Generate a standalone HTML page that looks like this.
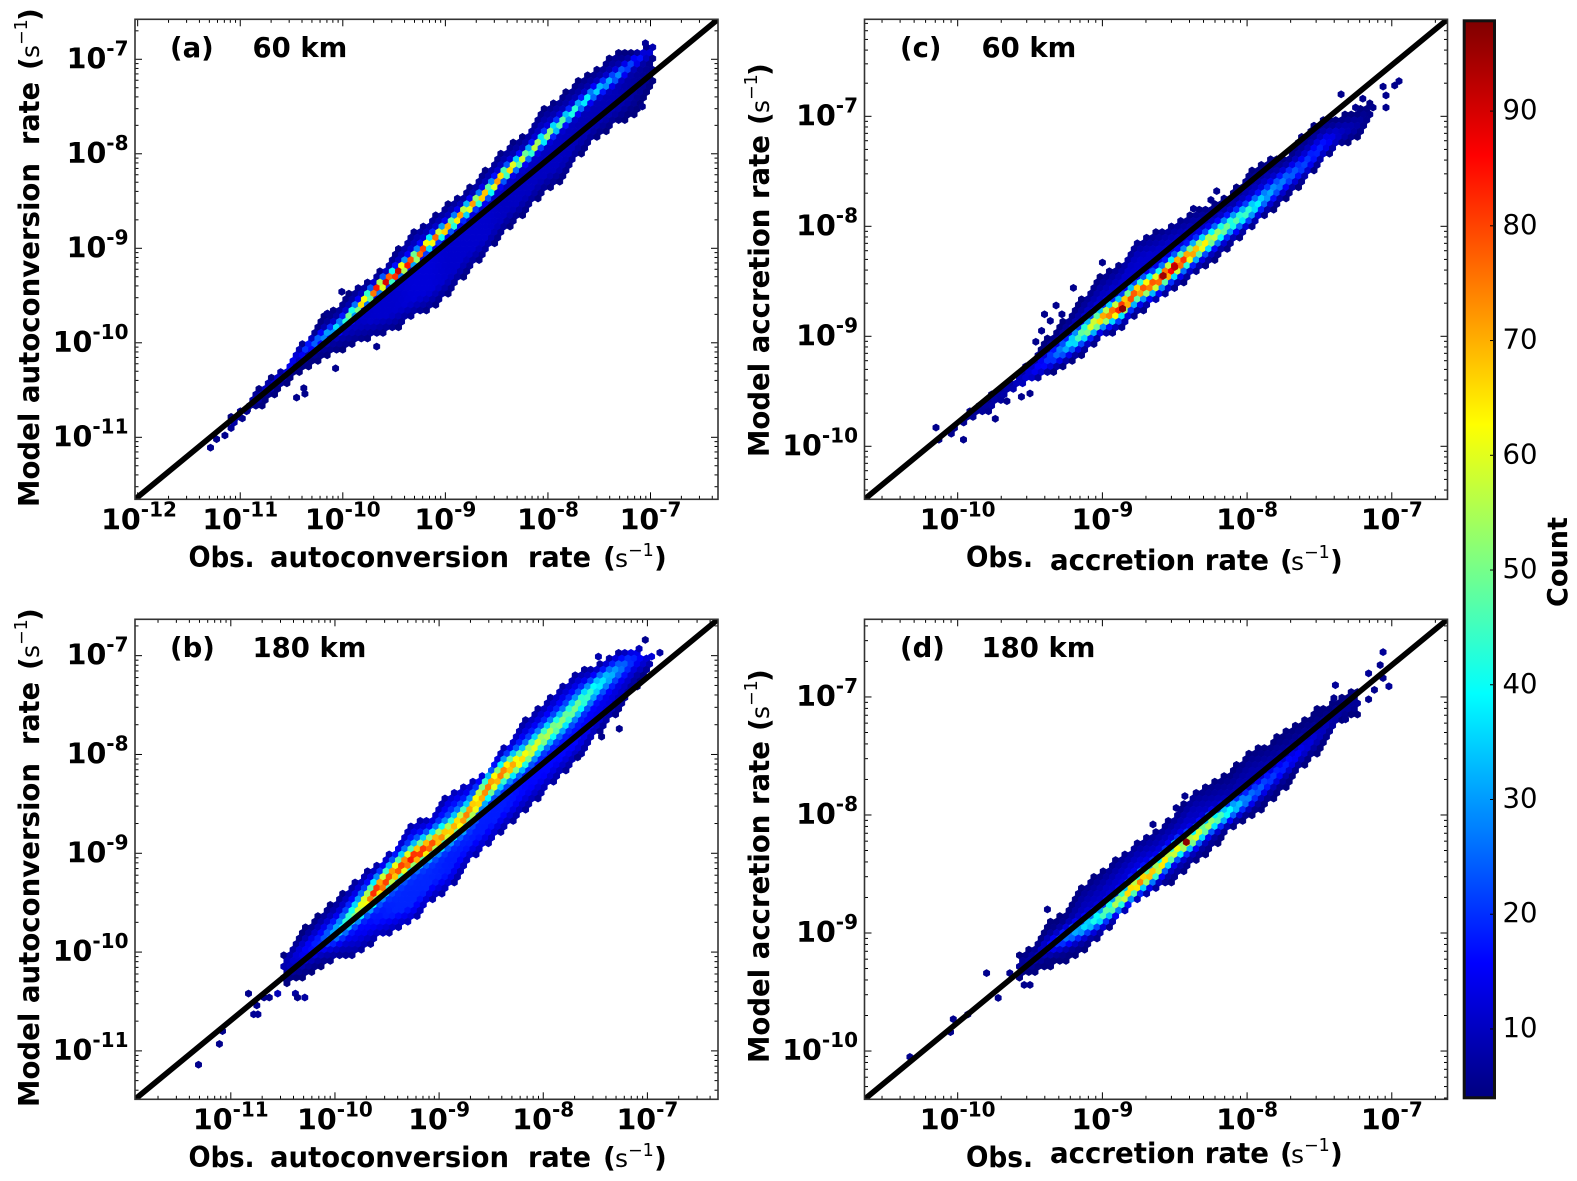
<!DOCTYPE html>
<html lang="en">
<head>
<meta charset="utf-8">
<title>Model vs observed autoconversion and accretion rates</title>
<style>
html,body{margin:0;padding:0;background:#fff;}
svg{display:block;}
text{font-family:"DejaVu Sans","Liberation Sans",sans-serif;fill:#000;}
.b{font-weight:bold;}
.tick{font-weight:bold;font-size:28.5px;}
.panel-tag{font-weight:bold;font-size:27.5px;}
.title{font-weight:bold;font-size:28.5px;}
.unit{font-size:28px;font-weight:bold;}
.unit-s{font-size:25px;}
.sup{font-size:17.5px;}
.cb{font-size:27.5px;}
</style>
</head>
<body>
<svg id="fig" xmlns="http://www.w3.org/2000/svg" width="1577" height="1181" viewBox="0 0 1577 1181">
<rect x="0" y="0" width="1577" height="1181" fill="#fff"/>
<defs>
<linearGradient id="jet" x1="0" y1="1" x2="0" y2="0"></linearGradient>
<clipPath id="clip-a"><rect x="135" y="19.3" width="583" height="480"/></clipPath>
<clipPath id="clip-b"><rect x="135" y="619.3" width="583" height="480"/></clipPath>
<clipPath id="clip-c"><rect x="864.5" y="19.3" width="583" height="480"/></clipPath>
<clipPath id="clip-d"><rect x="864.5" y="619.3" width="583" height="480"/></clipPath>
</defs>

<g id="panel-a"></g>
<g id="panel-b"></g>
<g id="panel-c"></g>
<g id="panel-d"></g>

<!-- panel tags -->
<text class="panel-tag" x="170" y="57">(a)</text>
<text class="panel-tag" x="252.5" y="57">60 km</text>
<text class="panel-tag" x="170" y="657">(b)</text>
<text class="panel-tag" x="252.5" y="657">180 km</text>
<text class="panel-tag" x="900" y="57">(c)</text>
<text class="panel-tag" x="981.5" y="57">60 km</text>
<text class="panel-tag" x="900" y="657">(d)</text>
<text class="panel-tag" x="981.5" y="657">180 km</text>

<!-- x axis titles -->
<g>
<text class="title" x="188.5" y="567" textLength="66" lengthAdjust="spacingAndGlyphs">Obs.</text>
<text class="title" x="270" y="567" textLength="239" lengthAdjust="spacingAndGlyphs">autoconversion</text>
<text class="title" x="528" y="567" textLength="63" lengthAdjust="spacingAndGlyphs">rate</text>
<text class="unit" x="603" y="567">(</text><text class="unit-s" x="615" y="567">s</text><text class="sup" x="628" y="556">−1</text><text class="unit" x="654" y="567">)</text>
</g>
<g>
<text class="title" x="188.5" y="1167" textLength="66" lengthAdjust="spacingAndGlyphs">Obs.</text>
<text class="title" x="270" y="1167" textLength="239" lengthAdjust="spacingAndGlyphs">autoconversion</text>
<text class="title" x="528" y="1167" textLength="63" lengthAdjust="spacingAndGlyphs">rate</text>
<text class="unit" x="603" y="1167">(</text><text class="unit-s" x="615" y="1167">s</text><text class="sup" x="628" y="1156">−1</text><text class="unit" x="654" y="1167">)</text>
</g>
<g>
<text class="title" x="966" y="567" textLength="67" lengthAdjust="spacingAndGlyphs">Obs.</text>
<text class="title" x="1050" y="570" textLength="219" lengthAdjust="spacingAndGlyphs">accretion rate</text>
<text class="unit" x="1280" y="570">(</text><text class="unit-s" x="1291" y="570">s</text><text class="sup" x="1304" y="558">−1</text><text class="unit" x="1330" y="570">)</text>
</g>
<g>
<text class="title" x="966" y="1167" textLength="67" lengthAdjust="spacingAndGlyphs">Obs.</text>
<text class="title" x="1050" y="1163" textLength="219" lengthAdjust="spacingAndGlyphs">accretion rate</text>
<text class="unit" x="1280" y="1163">(</text><text class="unit-s" x="1291" y="1163">s</text><text class="sup" x="1304" y="1151">−1</text><text class="unit" x="1330" y="1163">)</text>
</g>

<!-- y axis titles -->
<g>
<text class="title" transform="translate(39,507) rotate(-90)" textLength="344" lengthAdjust="spacingAndGlyphs">Model autoconversion</text>
<text class="title" transform="translate(39,145) rotate(-90)" textLength="63" lengthAdjust="spacingAndGlyphs">rate</text>
<text class="unit" transform="translate(39,70) rotate(-90)">(</text>
<text class="unit-s" transform="translate(39,58) rotate(-90)">s</text>
<text class="sup" transform="translate(27,45) rotate(-90)">−1</text>
<text class="unit" transform="translate(39,21) rotate(-90)">)</text>
</g>
<g>
<text class="title" transform="translate(39,1107) rotate(-90)" textLength="344" lengthAdjust="spacingAndGlyphs">Model autoconversion</text>
<text class="title" transform="translate(39,745) rotate(-90)" textLength="63" lengthAdjust="spacingAndGlyphs">rate</text>
<text class="unit" transform="translate(39,670) rotate(-90)">(</text>
<text class="unit-s" transform="translate(39,658) rotate(-90)">s</text>
<text class="sup" transform="translate(27,645) rotate(-90)">−1</text>
<text class="unit" transform="translate(39,621) rotate(-90)">)</text>
</g>
<g>
<text class="title" transform="translate(769,457) rotate(-90)" textLength="322" lengthAdjust="spacingAndGlyphs">Model accretion rate</text>
<text class="unit" transform="translate(769,125) rotate(-90)">(</text>
<text class="unit-s" transform="translate(769,113) rotate(-90)">s</text>
<text class="sup" transform="translate(757,100) rotate(-90)">−1</text>
<text class="unit" transform="translate(769,76) rotate(-90)">)</text>
</g>
<g>
<text class="title" transform="translate(769,1063) rotate(-90)" textLength="322" lengthAdjust="spacingAndGlyphs">Model accretion rate</text>
<text class="unit" transform="translate(769,731) rotate(-90)">(</text>
<text class="unit-s" transform="translate(769,719) rotate(-90)">s</text>
<text class="sup" transform="translate(757,706) rotate(-90)">−1</text>
<text class="unit" transform="translate(769,682) rotate(-90)">)</text>
</g>

<!-- colorbar -->
<g id="colorbar">
<rect x="1464" y="20.8" width="31" height="1077" fill="url(#jet)"/>
</g>
<text class="b" style="font-size:28px" transform="translate(1567,607) rotate(-90)" textLength="90" lengthAdjust="spacingAndGlyphs">Count</text>
</svg>

<script>
// ---- shared tick data ----
var colorbarLim = [3.87, 98];
var colorbarTicks = [10, 20, 30, 40, 50, 60, 70, 80, 90];

// ---- panel (a): autoconversion, 60 km ----
var aXLim = [-12.026, -6.342];
var aYLim = [-11.656, -6.577];
var aXTicks = [-12, -11, -10, -9, -8, -7];
var aYTicks = [-11, -10, -9, -8, -7];
var aObs = [-11.09,-10.95,-10.78,-10.58,-10.40,-10.22,-10.04,-9.86,-9.68,-9.50,-9.32,-9.14,-8.96,-8.78,-8.60,-8.42,-8.24,-8.06,-7.88,-7.70,-7.52,-7.34,-7.16,-6.97];
var aUpper = [-10.78,-10.68,-10.43,-10.26,-10.01,-9.75,-9.58,-9.39,-9.29,-9.06,-8.83,-8.69,-8.51,-8.37,-8.16,-7.93,-7.80,-7.54,-7.40,-7.22,-7.08,-6.92,-6.89,-6.85];
var aLower = [-10.94,-10.75,-10.68,-10.47,-10.29,-10.19,-10.10,-10.01,-9.94,-9.87,-9.74,-9.64,-9.48,-9.25,-9.07,-8.83,-8.65,-8.44,-8.30,-8.05,-7.84,-7.70,-7.59,-7.29];
var aRidge = [-10.86,-10.70,-10.52,-10.34,-10.10,-9.96,-9.83,-9.64,-9.44,-9.29,-9.13,-8.93,-8.77,-8.58,-8.42,-8.21,-8.05,-7.86,-7.68,-7.50,-7.33,-7.19,-7.03,-6.90];
var aPeak = [8,8,10,12,18,28,38,60,85,95,85,78,72,72,72,72,58,58,50,42,36,30,20,10];
var aBackground = [5,5,6,6,7,8,9,10,11,11,12,12,11,11,11,10,10,10,10,9,9,9,7,5];
var aRidgeWidth = 0.06;
var aCellX = [-11.29,-11.23,-11.15,-10.98,-10.93,-10.37,-10.38,-10.45,-10.07,-9.67,-10.01,-10.15,-7.05,-7.08];
var aCellY = [-11.11,-11.02,-10.98,-10.80,-10.71,-10.54,-10.48,-10.58,-10.27,-10.04,-9.46,-9.69,-6.83,-7.50];
var aCellCount = [5,5,5,5,5,5,5,5,5,5,5,5,6,5];

// ---- panel (b): autoconversion, 180 km ----
var bXLim = [-11.92, -6.322];
var bYLim = [-11.49, -6.632];
var bXTicks = [-11, -10, -9, -8, -7];
var bYTicks = [-11, -10, -9, -8, -7];
var bObs = [-10.50,-10.32,-10.14,-9.97,-9.79,-9.61,-9.43,-9.26,-9.08,-8.90,-8.72,-8.55,-8.37,-8.19,-8.01,-7.83,-7.66,-7.48,-7.30,-7.12,-6.95];
var bUpper = [-10.03,-9.79,-9.59,-9.46,-9.25,-9.13,-8.95,-8.70,-8.63,-8.38,-8.27,-8.16,-7.92,-7.67,-7.50,-7.31,-7.16,-7.09,-6.96,-6.95,-7.00];
var bLower = [-10.33,-10.30,-10.16,-10.08,-10.03,-9.88,-9.79,-9.71,-9.49,-9.37,-9.10,-8.95,-8.75,-8.58,-8.41,-8.21,-8.04,-7.80,-7.60,-7.35,-7.13];
var bRidge = [-10.16,-10.01,-9.89,-9.78,-9.59,-9.39,-9.20,-9.05,-8.92,-8.78,-8.61,-8.36,-8.17,-8.04,-7.85,-7.68,-7.50,-7.31,-7.16,-7.03,-7.01];
var bPeak = [8,14,20,35,55,85,78,85,80,68,75,75,75,65,58,52,50,40,30,18,9];
var bBackground = [5,7,9,12,14,17,19,19,19,18,18,18,18,16,16,16,16,14,12,9,6];
var bRidgeWidth = 0.11;
var bCellX = [-11.31,-11.11,-11.08,-10.83,-10.78,-10.74,-10.75,-10.68,-10.63,-10.55,-10.38,-10.29,-10.36,-7.47,-7.02,-7.08,-6.88,-6.96,-7.27,-7.44,-7.67];
var bCellY = [-11.14,-10.93,-10.80,-10.42,-10.63,-10.63,-10.54,-10.46,-10.46,-10.42,-10.42,-10.46,-10.46,-7.01,-6.84,-6.93,-6.97,-7.01,-7.74,-7.82,-8.03];
var bCellCount = [5,5,5,5,6,6,5,5,5,9,7,7,5,8,5,9,7,12,5,5,5];

// ---- panel (c): accretion, 60 km ----
var cXLim = [-10.644, -6.615];
var cYLim = [-10.482, -6.118];
var cXTicks = [-10, -9, -8, -7];
var cYTicks = [-10, -9, -8, -7];
var cObs = [-10.06,-9.91,-9.78,-9.65,-9.52,-9.40,-9.27,-9.14,-9.01,-8.88,-8.76,-8.63,-8.50,-8.37,-8.25,-8.12,-7.99,-7.86,-7.73,-7.61,-7.48,-7.35,-7.22,-7.15];
var cUpper = [-9.87,-9.65,-9.54,-9.43,-9.25,-9.05,-8.85,-8.65,-8.45,-8.34,-8.12,-8.05,-7.96,-7.87,-7.80,-7.71,-7.51,-7.40,-7.34,-7.16,-7.02,-6.99,-6.93,-6.87];
var cLower = [-9.92,-9.75,-9.69,-9.52,-9.43,-9.37,-9.28,-9.19,-9.02,-8.95,-8.81,-8.69,-8.57,-8.45,-8.34,-8.21,-8.05,-7.90,-7.77,-7.60,-7.42,-7.27,-7.21,-7.04];
var cRidge = [-9.90,-9.71,-9.63,-9.48,-9.36,-9.24,-9.12,-8.98,-8.84,-8.75,-8.60,-8.51,-8.37,-8.24,-8.12,-7.99,-7.87,-7.72,-7.57,-7.45,-7.27,-7.15,-7.07,-6.96];
var cPeak = [5,6,7,8,12,18,30,50,70,85,78,80,90,72,60,48,45,32,26,22,18,10,7,5];
var cBackground = [5,5,5,5,6,6,8,9,10,11,11,11,11,11,10,9,9,9,8,8,8,7,5,5];
var cRidgeWidth = 0.085;
var cCellX = [-10.15,-10.13,-9.96,-9.74,-9.66,-9.50,-9.56,-9.00,-9.20,-9.32,-9.40,-8.21,-8.25,-8.37,-7.35,-7.06,-6.98,-6.95,-7.04,-7.04,-7.13,-7.20,-7.25,-9.46,-9.42,-9.36,-9.28,-8.86,-8.58,-8.50];
var cCellY = [-9.83,-9.94,-9.94,-9.75,-9.59,-9.52,-9.55,-8.33,-8.56,-8.72,-8.80,-7.68,-7.76,-7.84,-6.80,-6.73,-6.72,-6.68,-6.81,-6.92,-6.92,-6.84,-6.92,-9.05,-8.95,-8.86,-8.80,-8.75,-8.45,-8.37];
var cCellCount = [5,5,5,5,5,5,5,5,5,5,5,5,5,5,5,5,5,5,5,5,5,5,5,5,5,5,5,97,95,92];

// ---- panel (d): accretion, 180 km ----
var dXLim = [-10.644, -6.615];
var dYLim = [-10.409, -6.342];
var dXTicks = [-10, -9, -8, -7];
var dYTicks = [-10, -9, -8, -7];
var dObs = [-9.58,-9.47,-9.40,-9.27,-9.14,-9.01,-8.88,-8.76,-8.63,-8.50,-8.37,-8.25,-8.12,-7.99,-7.86,-7.73,-7.61,-7.48,-7.35,-7.22];
var dUpper = [-9.19,-9.09,-8.93,-8.82,-8.59,-8.48,-8.35,-8.23,-8.14,-8.00,-7.80,-7.72,-7.63,-7.46,-7.39,-7.27,-7.18,-7.07,-7.01,-6.87];
var dLower = [-9.38,-9.37,-9.30,-9.26,-9.16,-9.05,-8.85,-8.73,-8.64,-8.56,-8.42,-8.31,-8.14,-8.03,-7.92,-7.77,-7.60,-7.46,-7.21,-7.17];
var dRidge = [-9.29,-9.21,-9.13,-9.05,-8.96,-8.86,-8.73,-8.59,-8.47,-8.31,-8.20,-8.07,-7.97,-7.86,-7.72,-7.58,-7.44,-7.29,-7.12,-7.03];
var dPeak = [6,8,12,25,35,45,58,75,68,62,62,55,40,28,22,18,14,10,7,6];
var dBackground = [5,5,6,7,9,10,11,12,12,11,10,9,8,8,8,7,7,6,5,5];
var dRidgeWidth = 0.075;
var dCellX = [-10.33,-10.05,-10.03,-9.93,-9.72,-9.80,-9.64,-9.38,-9.54,-9.50,-8.65,-8.49,-8.43,-7.06,-7.08,-7.16,-7.02,-7.06,-7.12,-7.16,-7.39,-7.40,-7.32,-8.42];
var dCellY = [-10.05,-9.84,-9.73,-9.69,-9.55,-9.34,-9.34,-8.80,-9.44,-9.44,-8.08,-7.94,-7.84,-6.62,-6.73,-6.80,-6.91,-6.84,-6.94,-7.02,-6.90,-7.01,-7.19,-8.23];
var dCellCount = [5,5,5,5,5,5,5,5,5,5,5,5,5,6,5,6,6,5,5,5,6,5,5,97];

var SVGNS = 'http://www.w3.org/2000/svg';
var HEX_DX = 6.2, HEX_DY = 5.6, HEX_HALF_W = 3.2, HEX_R = 3.7;

function jet(count) {
  var t = (count - colorbarLim[0]) / (colorbarLim[1] - colorbarLim[0]);
  t = Math.max(0, Math.min(1, t));
  function ch(c) { return Math.round(255 * Math.max(0, Math.min(1, 1.5 - Math.abs(4 * t - c)))); }
  return 'rgb(' + ch(3) + ',' + ch(2) + ',' + ch(1) + ')';
}

function lookup(xs, ys, x) {
  if (x < xs[0] || x > xs[xs.length - 1]) return null;
  for (var k = 0; k < xs.length - 1; k++) {
    if (x <= xs[k + 1]) {
      var f = (x - xs[k]) / (xs[k + 1] - xs[k]);
      return ys[k] + f * (ys[k + 1] - ys[k]);
    }
  }
  return ys[ys.length - 1];
}

function hexPoints(x, y) {
  var w = HEX_HALF_W, r = HEX_R;
  return (x + w).toFixed(1) + ',' + (y - r / 2).toFixed(1) + ' ' +
         (x + w).toFixed(1) + ',' + (y + r / 2).toFixed(1) + ' ' +
         x.toFixed(1) + ',' + (y + r).toFixed(1) + ' ' +
         (x - w).toFixed(1) + ',' + (y + r / 2).toFixed(1) + ' ' +
         (x - w).toFixed(1) + ',' + (y - r / 2).toFixed(1) + ' ' +
         x.toFixed(1) + ',' + (y - r).toFixed(1);
}

function addHex(parent, x, y, count) {
  var el = document.createElementNS(SVGNS, 'polygon');
  var col = jet(count);
  el.setAttribute('points', hexPoints(x, y));
  el.setAttribute('fill', col);
  el.setAttribute('stroke', col);
  el.setAttribute('stroke-width', '0.5');
  
  
  parent.appendChild(el);
}

function addTickLine(parent, x1, y1, x2, y2, name) {
  var el = document.createElementNS(SVGNS, 'line');
  el.setAttribute('x1', x1);
  el.setAttribute('y1', y1);
  el.setAttribute('x2', x2);
  el.setAttribute('y2', y2);
  el.setAttribute('stroke', '#000');
  el.setAttribute('stroke-width', '1');
  
  
  parent.appendChild(el);
}

function addExpLabel(parent, x, y, exponent, anchor, name) {
  var el = document.createElementNS(SVGNS, 'text');
  el.setAttribute('class', 'tick');
  el.setAttribute('x', x);
  el.setAttribute('y', y);
  el.setAttribute('text-anchor', anchor);
  
  
  el.appendChild(document.createTextNode('10'));
  var sup = document.createElementNS(SVGNS, 'tspan');
  sup.setAttribute('dy', '-13');
  sup.setAttribute('font-size', '20');
  sup.textContent = String(exponent);
  el.appendChild(sup);
  parent.appendChild(el);
}

function drawPanel(id, rect, xLim, yLim, xTicks, yTicks, obs, upper, lower, ridge, peak, background, ridgeWidth, cellX, cellY, cellCount) {
  var root = document.getElementById(id);
  var L = rect[0], T = rect[1], R = rect[0] + rect[2], B = rect[1] + rect[3];
  function xScale(v) { return L + (v - xLim[0]) / (xLim[1] - xLim[0]) * (R - L); }
  function yScale(v) { return B - (v - yLim[0]) / (yLim[1] - yLim[0]) * (B - T); }
  function xInv(p) { return xLim[0] + (p - L) / (R - L) * (xLim[1] - xLim[0]); }
  function yInv(p) { return yLim[0] + (B - p) / (B - T) * (yLim[1] - yLim[0]); }

  var plot = document.createElementNS(SVGNS, 'g');
  plot.setAttribute('clip-path', 'url(#clip-' + id.slice(-1) + ')');
  
  
  root.appendChild(plot);

  var rows = Math.floor((B - T) / HEX_DY), cols = Math.floor((R - L) / HEX_DX);
  for (var j = 0; j <= rows; j++) {
    for (var i = 0; i <= cols; i++) {
      var px = L + i * HEX_DX + (j % 2 ? HEX_DX / 2 : 0);
      var py = T + j * HEX_DY;
      var lx = xInv(px), ly = yInv(py);
      var up = lookup(obs, upper, lx);
      if (up === null) continue;
      var lo = lookup(obs, lower, lx);
      if (ly > up || ly < lo) continue;
      var rd = lookup(obs, ridge, lx);
      var pk = lookup(obs, peak, lx);
      var bg = lookup(obs, background, lx);
      var edge = Math.min(up - ly, ly - lo);
      var shade = bg * (0.4 + 0.6 * Math.min(1, edge / 0.18));
      var d = (ly - rd) / ridgeWidth;
      addHex(plot, px, py, shade + (pk - shade) * Math.exp(-d * d));
    }
  }
  for (var s = 0; s < cellX.length; s++) {
    addHex(plot, xScale(cellX[s]), yScale(cellY[s]), cellCount[s]);
  }

  var line = document.createElementNS(SVGNS, 'line');
  line.setAttribute('x1', xScale(xLim[0]));
  line.setAttribute('y1', yScale(yLim[0]));
  line.setAttribute('x2', xScale(xLim[1]));
  line.setAttribute('y2', yScale(yLim[1]));
  line.setAttribute('stroke', '#000');
  line.setAttribute('stroke-width', '5.6');
  
  
  plot.appendChild(line);

  var ticks = document.createElementNS(SVGNS, 'g');
  
  
  root.appendChild(ticks);
  var subs = [2, 3, 4, 5, 6, 7, 8, 9];
  var d0, q, v, p;
  for (d0 = Math.floor(xLim[0]); d0 <= Math.ceil(xLim[1]); d0++) {
    if (d0 >= xLim[0] && d0 <= xLim[1]) {
      p = xScale(d0);
      addTickLine(ticks, p, B, p, B - 7, 'x-major-tick');
      addTickLine(ticks, p, T, p, T + 7, 'x-major-tick');
    }
    for (q = 0; q < subs.length; q++) {
      v = d0 + Math.log10(subs[q]);
      if (v < xLim[0] || v > xLim[1]) continue;
      p = xScale(v);
      addTickLine(ticks, p, B, p, B - 3.5, 'x-minor-tick');
      addTickLine(ticks, p, T, p, T + 3.5, 'x-minor-tick');
    }
  }
  for (d0 = Math.floor(yLim[0]); d0 <= Math.ceil(yLim[1]); d0++) {
    if (d0 >= yLim[0] && d0 <= yLim[1]) {
      p = yScale(d0);
      addTickLine(ticks, L, p, L + 7, p, 'y-major-tick');
      addTickLine(ticks, R, p, R - 7, p, 'y-major-tick');
    }
    for (q = 0; q < subs.length; q++) {
      v = d0 + Math.log10(subs[q]);
      if (v < yLim[0] || v > yLim[1]) continue;
      p = yScale(v);
      addTickLine(ticks, L, p, L + 3.5, p, 'y-minor-tick');
      addTickLine(ticks, R, p, R - 3.5, p, 'y-minor-tick');
    }
  }

  var frame = document.createElementNS(SVGNS, 'rect');
  frame.setAttribute('x', L);
  frame.setAttribute('y', T);
  frame.setAttribute('width', R - L);
  frame.setAttribute('height', B - T);
  frame.setAttribute('fill', 'none');
  frame.setAttribute('stroke', '#333');
  frame.setAttribute('stroke-width', '1.6');
  
  
  root.appendChild(frame);

  xTicks.forEach(function (e) {
    var cx = Math.max(xScale(e), L + 4);
    addExpLabel(root, cx, B + 30, e, 'middle', 'x-tick-label');
  });
  yTicks.forEach(function (e) {
    addExpLabel(root, L - 6.5, yScale(e) + 9, e, 'end', 'y-tick-label');
  });
}

drawPanel('panel-a', [135, 19.3, 583, 480], aXLim, aYLim, aXTicks, aYTicks, aObs, aUpper, aLower, aRidge, aPeak, aBackground, aRidgeWidth, aCellX, aCellY, aCellCount);
drawPanel('panel-b', [135, 619.3, 583, 480], bXLim, bYLim, bXTicks, bYTicks, bObs, bUpper, bLower, bRidge, bPeak, bBackground, bRidgeWidth, bCellX, bCellY, bCellCount);
drawPanel('panel-c', [864.5, 19.3, 583, 480], cXLim, cYLim, cXTicks, cYTicks, cObs, cUpper, cLower, cRidge, cPeak, cBackground, cRidgeWidth, cCellX, cCellY, cCellCount);
drawPanel('panel-d', [864.5, 619.3, 583, 480], dXLim, dYLim, dXTicks, dYTicks, dObs, dUpper, dLower, dRidge, dPeak, dBackground, dRidgeWidth, dCellX, dCellY, dCellCount);

// ---- colorbar ----
(function () {
  var grad = document.getElementById('jet');
  for (var k = 0; k <= 64; k++) {
    var stop = document.createElementNS(SVGNS, 'stop');
    stop.setAttribute('offset', (k / 64).toFixed(4));
    stop.setAttribute('stop-color', jet(colorbarLim[0] + (colorbarLim[1] - colorbarLim[0]) * k / 64));
    grad.appendChild(stop);
  }
  var group = document.getElementById('colorbar');
  var T = 19.3, B = 1099.3, L = 1462.7, R = 1496;
  function cbScale(v) { return B - (v - colorbarLim[0]) / (colorbarLim[1] - colorbarLim[0]) * (B - T); }
  colorbarTicks.forEach(function (v) {
    var y = cbScale(v);
    addTickLine(group, R - 6, y, R, y, 'colorbar-tick');
    var t = document.createElementNS(SVGNS, 'text');
    t.setAttribute('class', 'cb');
    t.setAttribute('x', 1502.5);
    t.setAttribute('y', y + 8);
    
    
    t.textContent = String(v);
    group.appendChild(t);
  });
  var box = document.createElementNS(SVGNS, 'rect');
  box.setAttribute('x', L + 1.5);
  box.setAttribute('y', T + 1.5);
  box.setAttribute('width', R - L - 3);
  box.setAttribute('height', B - T - 3);
  box.setAttribute('fill', 'none');
  box.setAttribute('stroke', '#111');
  box.setAttribute('stroke-width', '3');
  
  
  group.appendChild(box);
})();
</script>
</body>
</html>
